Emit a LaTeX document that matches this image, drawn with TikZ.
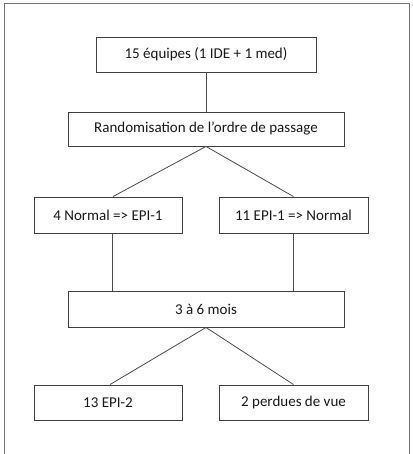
\documentclass[tikz,border=0pt]{standalone}
\usepackage{fontspec}
\setmainfont{Carlito}
\begin{document}
\begin{tikzpicture}[x=1pt,y=-1pt,
  box/.style={draw=black!75,line width=0.9pt,rectangle,inner sep=0pt,font=\fontsize{15}{18}\selectfont,text=black!90},
  conn/.style={draw=black!70,line width=0.8pt}]
\useasboundingbox (0,0) rectangle (412,454);
\draw[black!55,line width=1pt] (4,460) -- (4,3.5) -- (409,3.5) -- (409,460);
\node[box,minimum width=220pt,minimum height=35pt] (b1) at (206,54.5) {15 équipes (1 IDE + 1 med)};
\node[box,minimum width=276pt,minimum height=34pt] (b2) at (206,129) {Randomisation de l’ordre de passage};
\node[box,minimum width=148pt,minimum height=36pt] (b3) at (108,215) {4 Normal => EPI-1};
\node[box,minimum width=149pt,minimum height=36pt] (b4) at (293.5,215) {11 EPI-1 => Normal};
\node[box,minimum width=276pt,minimum height=36pt] (b5) at (206,309) {3 à 6 mois};
\node[box,minimum width=148pt,minimum height=35pt] (b6) at (108,402.5) {13 EPI-2};
\node[box,minimum width=149pt,minimum height=35pt] (b7) at (293.5,402.5) {2 perdues de vue};
\draw[conn] (b1.south) -- (b2.north);
\draw[conn] (b2.south) -- ([xshift=5pt]b3.north);
\draw[conn] (b2.south) -- (b4.north);
\draw[conn] ([xshift=4pt]b3.south) -- ([xshift=4pt]b3.south |- b5.north);
\draw[conn] (b4.south) -- (b4.south |- b5.north);
\draw[conn] (b5.south) -- ([xshift=2pt]b6.north);
\draw[conn] (b5.south) -- (b7.north);
\end{tikzpicture}
\end{document}
